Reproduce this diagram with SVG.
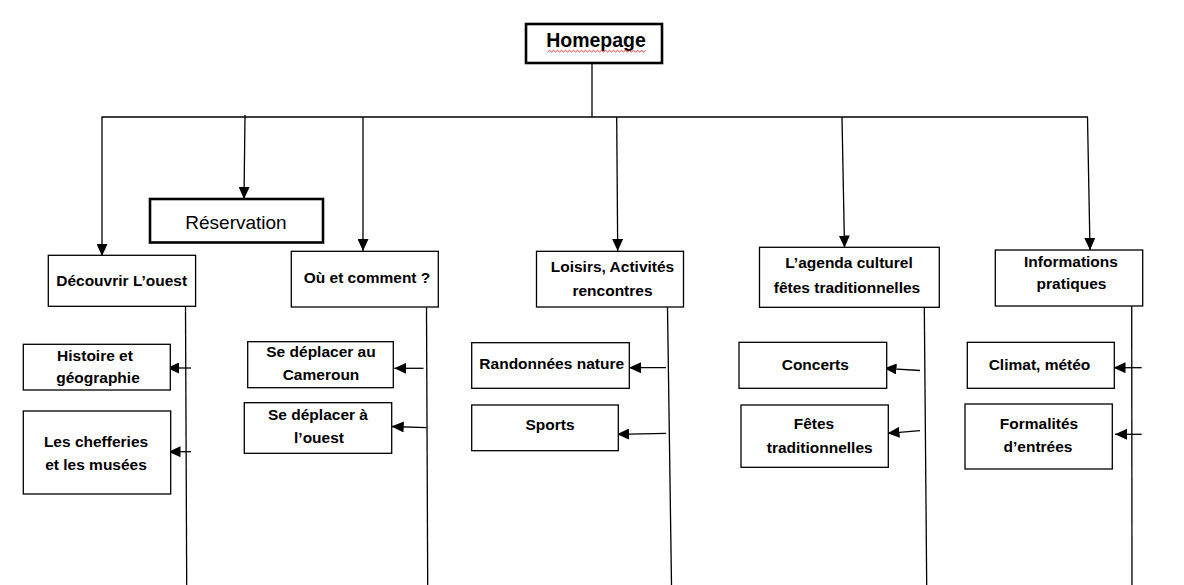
<svg xmlns="http://www.w3.org/2000/svg" width="1184" height="585" viewBox="0 0 1184 585">
<style>
.box{fill:#fff;stroke:#000;stroke-width:1.3}
.thick{fill:#fff;stroke:#000;stroke-width:2.6}
.t{font-family:"Liberation Sans",Arial,sans-serif;font-weight:bold;font-size:15.5px;fill:#000;text-anchor:middle}
.c{fill:none;stroke:#000;stroke-width:1.3}
.a{fill:none;stroke:#000;stroke-width:1.3;marker-end:url(#ah)}
</style>
<defs>
<marker id="ah" viewBox="0 0 12 11" refX="12" refY="5.5" markerWidth="12" markerHeight="11" markerUnits="userSpaceOnUse" orient="auto">
<path d="M0,0 L12,5.5 L0,11 z" fill="#000"/>
</marker>
</defs>
<rect width="1184" height="585" fill="#fff"/>
<g id="connectors">
<line class="c" x1="592" y1="63" x2="592" y2="117"/>
<line class="c" x1="101.5" y1="117" x2="1088" y2="117"/>
<line class="a" x1="102" y1="117" x2="102" y2="256"/>
<line class="a" x1="245" y1="115" x2="244" y2="199"/>
<line class="a" x1="363" y1="117" x2="363" y2="251"/>
<line class="a" x1="616.7" y1="117" x2="617.7" y2="251"/>
<line class="a" x1="842" y1="117" x2="844.5" y2="247.5"/>
<line class="a" x1="1087.5" y1="117" x2="1090" y2="250"/>
<line class="c" x1="185.5" y1="306" x2="186.7" y2="585"/>
<line class="c" x1="426.5" y1="307" x2="427.7" y2="585"/>
<line class="c" x1="667.5" y1="307" x2="671.5" y2="585"/>
<line class="c" x1="924.3" y1="307" x2="926.7" y2="585"/>
<line class="c" x1="1131.7" y1="306" x2="1132" y2="585"/>
<line class="a" x1="191" y1="368" x2="167" y2="368"/>
<line class="a" x1="191" y1="451.7" x2="168.5" y2="451.7"/>
<line class="a" x1="423.5" y1="368.3" x2="394.3" y2="368.3"/>
<line class="a" x1="426.5" y1="427.7" x2="391.7" y2="426.5"/>
<line class="a" x1="666" y1="367.7" x2="629" y2="367.7"/>
<line class="a" x1="666" y1="433.3" x2="617" y2="434.3"/>
<line class="a" x1="920" y1="370.5" x2="884.5" y2="368.3"/>
<line class="a" x1="920" y1="430.7" x2="887.5" y2="433.3"/>
<line class="a" x1="1141.7" y1="367.7" x2="1113.5" y2="367.7"/>
<line class="a" x1="1141.7" y1="434.3" x2="1115" y2="434.3"/>
</g>
<g id="homepage">
<rect class="thick" x="526" y="24" width="136" height="39"/>
<text class="t" x="596" y="47" style="font-size:19.5px">Homepage</text>
<path d="M547.5,52 l2,-1.6 l2,1.6 l2,-1.6 l2,1.6 l2,-1.6 l2,1.6 l2,-1.6 l2,1.6 l2,-1.6 l2,1.6 l2,-1.6 l2,1.6 l2,-1.6 l2,1.6 l2,-1.6 l2,1.6 l2,-1.6 l2,1.6 l2,-1.6 l2,1.6 l2,-1.6 l2,1.6 l2,-1.6 l2,1.6 l2,-1.6 l2,1.6 l2,-1.6 l2,1.6 l2,-1.6 l2,1.6 l2,-1.6 l2,1.6 l2,-1.6 l2,1.6 l2,-1.6 l2,1.6 l2,-1.6 l2,1.6 l2,-1.6 l2,1.6 l2,-1.6 l2,1.6 l2,-1.6 l2,1.6 l2,-1.6 l2,1.6 l2,-1.6 l2,1.6 l2,-1.6" fill="none" stroke="#e02020" stroke-width="0.9"/>
</g>
<g id="reservation">
<rect class="thick" x="150" y="199" width="173" height="43.5"/>
<text class="t" x="236" y="229" style="font-weight:normal;font-size:19px">Réservation</text>
</g>
<g id="decouvrir">
<rect class="box" x="48.3" y="255.3" width="147.3" height="51"/>
<text class="t" x="121.7" y="286">Découvrir L’ouest</text>
</g>
<g id="ou-et-comment">
<rect class="box" x="291.3" y="251.3" width="147" height="55.7"/>
<text class="t" x="367" y="283">Où et comment ?</text>
</g>
<g id="loisirs">
<rect class="box" x="536.5" y="251.3" width="147" height="55.7"/>
<text class="t" x="612.5" y="271.7">Loisirs, Activités</text>
<text class="t" x="612.5" y="295.7">rencontres</text>
</g>
<g id="agenda">
<rect class="box" x="759.5" y="247.3" width="179.8" height="60"/>
<text class="t" x="849" y="268.3">L’agenda culturel</text>
<text class="t" x="847" y="293.3">fêtes traditionnelles</text>
</g>
<g id="informations">
<rect class="box" x="995.3" y="250" width="147.4" height="56"/>
<text class="t" x="1071" y="266.7">Informations</text>
<text class="t" x="1071.5" y="289">pratiques</text>
</g>
<g id="histoire">
<rect class="box" x="23.3" y="344.3" width="147" height="45.7"/>
<text class="t" x="95" y="360.7">Histoire et</text>
<text class="t" x="98" y="383.3">géographie</text>
</g>
<g id="chefferies">
<rect class="box" x="23.3" y="411" width="147.4" height="83"/>
<text class="t" x="96" y="446.7">Les chefferies</text>
<text class="t" x="96" y="470">et les musées</text>
</g>
<g id="cameroun">
<rect class="box" x="247.7" y="341.7" width="145.6" height="46"/>
<text class="t" x="321" y="356.7">Se déplacer au</text>
<text class="t" x="321" y="380">Cameroun</text>
</g>
<g id="ouest">
<rect class="box" x="244.3" y="402.7" width="147.4" height="50.6"/>
<text class="t" x="318" y="420">Se déplacer à</text>
<text class="t" x="319" y="442.7">l’ouest</text>
</g>
<g id="randonnees">
<rect class="box" x="471.7" y="342.7" width="157.6" height="45.6"/>
<text class="t" x="551.7" y="369">Randonnées nature</text>
</g>
<g id="sports">
<rect class="box" x="471.7" y="405" width="146.6" height="45.7"/>
<text class="t" x="550" y="430">Sports</text>
</g>
<g id="concerts">
<rect class="box" x="739" y="342.3" width="147.7" height="46"/>
<text class="t" x="815.3" y="370">Concerts</text>
</g>
<g id="fetes">
<rect class="box" x="741" y="405" width="147.3" height="62.3"/>
<text class="t" x="814" y="429.3">Fêtes</text>
<text class="t" x="819.7" y="453.3">traditionnelles</text>
</g>
<g id="climat">
<rect class="box" x="967.3" y="342.3" width="147" height="46"/>
<text class="t" x="1039.5" y="370">Climat, météo</text>
</g>
<g id="formalites">
<rect class="box" x="965" y="404" width="147.3" height="65"/>
<text class="t" x="1039" y="429">Formalités</text>
<text class="t" x="1038" y="451.7">d’entrées</text>
</g>
</svg>
